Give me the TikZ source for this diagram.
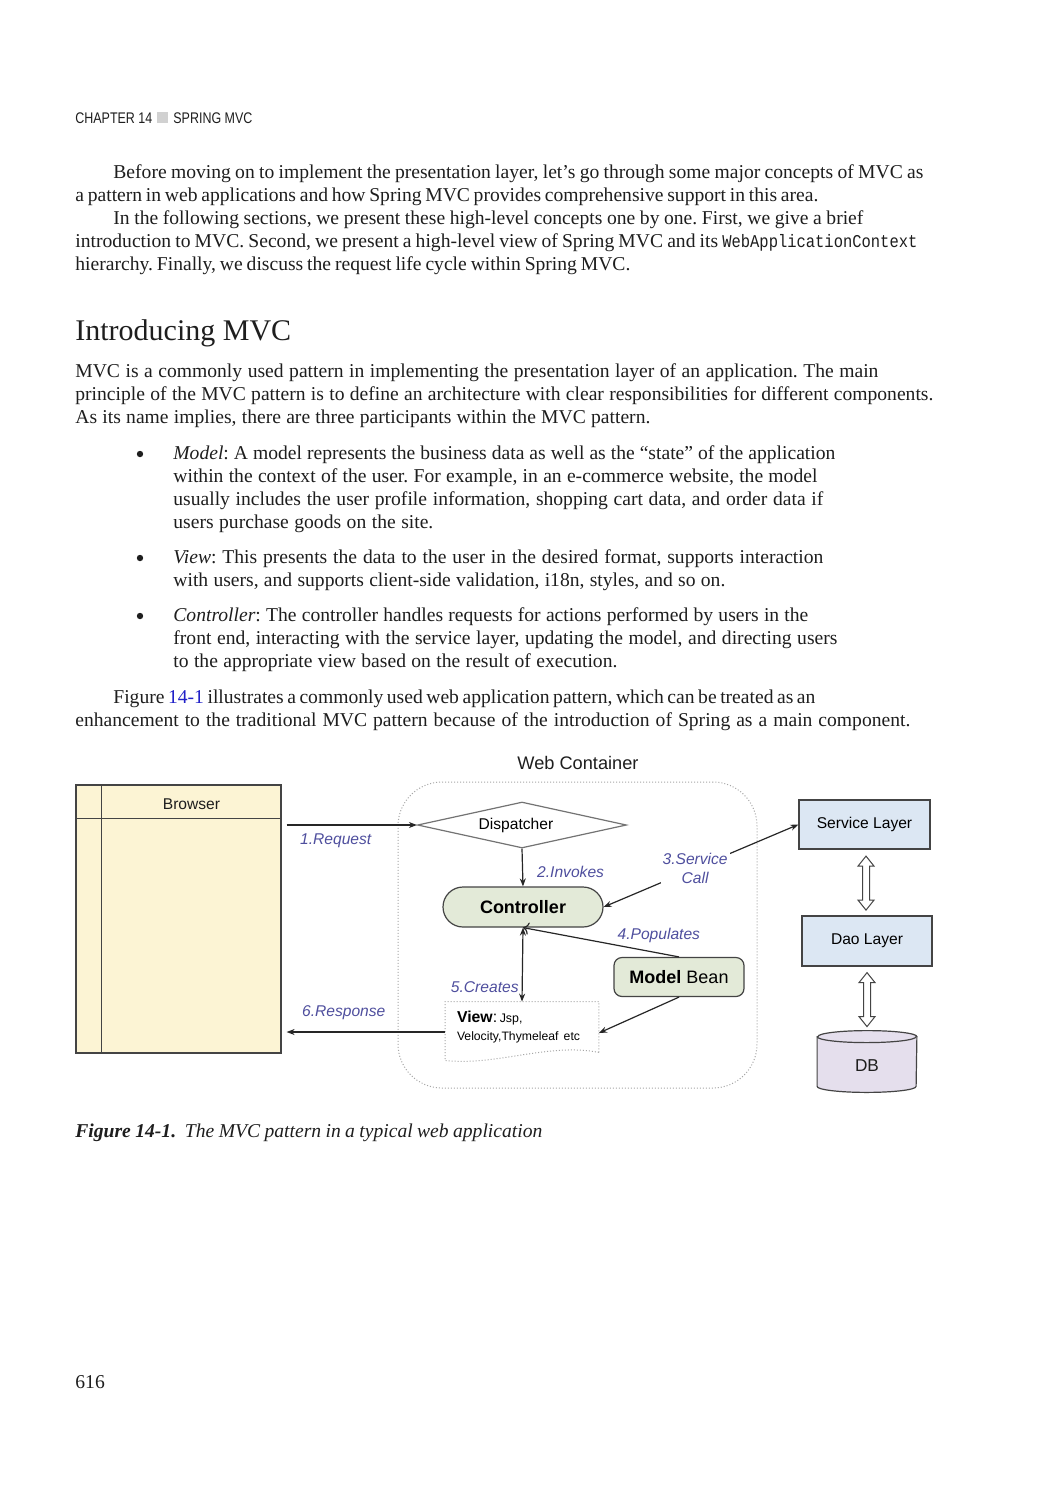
\documentclass[tikz,border=0pt]{standalone}
\usepackage{fontspec}
\setmainfont{Liberation Serif}
\setsansfont{Liberation Sans}
\setmonofont{Liberation Mono}
\newfontfamily\condsans[FakeStretch=0.81]{Liberation Sans}
\newfontfamily\codefont[FakeStretch=0.86]{Liberation Mono}
\usepackage{xcolor}
\usetikzlibrary{arrows.meta,shapes.geometric,positioning}
\definecolor{inktext}{HTML}{1E1E1E}
\definecolor{browserfill}{HTML}{FCF4D4}
\definecolor{greenfill}{HTML}{E3EAD8}
\definecolor{bluefill}{HTML}{DCE7F3}
\definecolor{dbfill}{HTML}{E5DFED}
\definecolor{boxline}{HTML}{444444}
\definecolor{lblblue}{HTML}{4F4F9E}
\definecolor{linkblue}{HTML}{2020C8}
\newlength{\px}
\setlength{\px}{0.5pt}
% one line of body text, stretched to the width it has on the page
\newcommand{\tline}[5]{\node[txt] (#1) at (#2,#3) {\makebox[#4\px][s]{#5}};}
\tikzset{
  txt/.style={anchor=base west, inner sep=0pt, text=inktext, font=\frenchspacing\fontsize{9.8}{11.5}\selectfont},
  head/.style={anchor=base west, inner sep=0pt, text=inktext, font=\condsans\fontsize{7.7}{9}\selectfont},
  lbl/.style={font=\sffamily\itshape\fontsize{7.8}{9.5}\selectfont, text=lblblue, inner sep=1pt},
  box/.style={draw=boxline, line width=0.6pt, inner sep=0pt, font=\sffamily\fontsize{7.8}{9}\selectfont},
  greenbox/.style={box, fill=greenfill, font=\sffamily\bfseries\fontsize{9}{10}\selectfont},
  bluebox/.style={box, fill=bluefill},
  arr/.style={draw=black!85, line width=0.6pt, -{Stealth[length=4pt,width=3pt]}},
  twoarr/.style={arr, {Stealth[length=4pt,width=3pt]}-{Stealth[length=4pt,width=3pt]}},
  dots/.style={draw=black!35, line width=0.5pt, dash pattern=on 0.5pt off 1pt},
  % hollow up-down arrow between the layers, 27pt long
  hollowarr/.pic={
    \draw[boxline, line width=0.5pt, fill=white] (0,0) -- (4pt,-5pt) -- (1.75pt,-5pt) -- (1.75pt,-22pt) -- (4pt,-22pt)
      -- (0,-27pt) -- (-4pt,-22pt) -- (-1.75pt,-22pt) -- (-1.75pt,-5pt) -- (-4pt,-5pt) -- cycle;
  }
}
\begin{document}
\begin{tikzpicture}[x=0.5pt, y=-0.5pt]
\useasboundingbox (0,0) rectangle (1050,1500);
\fill[white] (0,0) rectangle (1050,1500);

% running head
\node[head] (chap) at (75,123) {CHAPTER 14};
\fill[black!18] (157,112) rectangle (168,123);
\node[head] (spring) at (173,123) {SPRING MVC};

% first paragraphs
\tline{pa}{113}{178}{810}{Before moving on to implement the presentation layer, let’s go through some major concepts of MVC as}
\tline{pb}{75}{201}{743}{a pattern in web applications and how Spring MVC provides comprehensive support in this area.}
\tline{pc}{113}{224}{750}{In the following sections, we present these high-level concepts one by one. First, we give a brief}
\tline{pd}{75}{247}{842}{introduction to MVC. Second, we present a high-level view of Spring MVC and its {\codefont\fontsize{9}{10}\selectfont WebApplicationContext}}
\tline{pe}{75}{270}{555}{hierarchy. Finally, we discuss the request life cycle within Spring MVC.}

% section
\node[anchor=base west, inner sep=0pt, text=inktext, font=\fontsize{15}{18}\selectfont] (intro) at (75,340) {Introducing MVC};
\tline{ma}{75}{377}{803}{MVC is a commonly used pattern in implementing the presentation layer of an application. The main}
\tline{mb}{75}{400}{858}{principle of the MVC pattern is to define an architecture with clear responsibilities for different components.}
\tline{mc}{75}{423}{575}{As its name implies, there are three participants within the MVC pattern.}

% bullets
\fill[inktext] (140,454) circle (1.6pt);
\fill[inktext] (140,558) circle (1.6pt);
\fill[inktext] (140,616) circle (1.6pt);
\tline{ba}{173}{459}{662}{\textit{Model}: A model represents the business data as well as the “state” of the application}
\tline{bb}{173}{482}{644}{within the context of the user. For example, in an e-commerce website, the model}
\tline{bc}{173}{505}{650}{usually includes the user profile information, shopping cart data, and order data if}
\tline{bd}{173}{528}{260}{users purchase goods on the site.}
\tline{be}{173}{563}{650}{\textit{View}: This presents the data to the user in the desired format, supports interaction}
\tline{bf}{173}{586}{552}{with users, and supports client-side validation, i18n, styles, and so on.}
\tline{bg}{173}{621}{635}{\textit{Controller}: The controller handles requests for actions performed by users in the}
\tline{bh}{173}{644}{664}{front end, interacting with the service layer, updating the model, and directing users}
\tline{bi}{173}{667}{444}{to the appropriate view based on the result of execution.}

\tline{fa}{113}{703}{702}{Figure {\color{linkblue}14-1} illustrates a commonly used web application pattern, which can be treated as an}
\tline{fb}{75}{726}{835}{enhancement to the traditional MVC pattern because of the introduction of Spring as a main component.}

% the figure
\node[dots, minimum width=179.5pt, minimum height=153pt, rounded corners=22pt] (webc) at (577.5,935) {};
\node[anchor=base, inner sep=0pt, text=inktext, font=\sffamily\fontsize{9.1}{10}\selectfont] (webtitle) at (578,769) {Web Container};

\node[box, fill=browserfill, minimum width=102.5pt, minimum height=134pt] (browser) at (178.5,919) {};
\draw[boxline, line width=0.6pt] ([yshift=-17pt]browser.north west) -- ([yshift=-17pt]browser.north east);
\draw[boxline, line width=0.6pt] ([xshift=13pt]browser.north west) -- ([xshift=13pt]browser.south west);
\node[font=\sffamily\fontsize{7.8}{9}\selectfont, text=inktext] (browsertxt) at (191.5,804) {Browser};

\node[box, diamond, fill=white, draw=black!55, aspect=4.5, minimum width=104.5pt, minimum height=23pt] (disp) at (522,825) {\hspace*{-6pt}Dispatcher};
\node[greenbox, minimum width=80pt, minimum height=20pt, rounded corners=10pt] (ctrl) at (523,907) {Controller};
\node[greenbox, minimum width=65pt, minimum height=19.5pt, rounded corners=4pt] (bean) at (679,977) {Model\mdseries\ Bean};
\node[inner sep=0pt, minimum width=76.5pt, minimum height=25pt, text width=65pt, align=left, font=\sffamily\fontsize{7.9}{8}\selectfont] (view) at (522,1027)
  {\textbf{View}:\,{\fontsize{6.2}{7}\selectfont Jsp,}\\[1pt]{\fontsize{6.1}{7}\selectfont Velocity,Thymeleaf etc}};
\draw[dots] (view.south east) -- (view.north east) -- (view.north west) -- ([yshift=-4pt]view.south west)
  .. controls +(25pt,-3pt) and +(-25pt,5pt) .. (view.south east);

\node[bluebox, minimum width=65.5pt, minimum height=24.5pt] (svc) at (864.5,824.5) {Service Layer};
\node[bluebox, minimum width=65pt, minimum height=25pt] (dao) at (867,941) {Dao Layer};
% DB drum
\node[inner sep=0pt, minimum width=49.5pt, minimum height=30.5pt] (db) at (867,1061.5) {};
\draw[boxline, line width=0.6pt, fill=dbfill] ([yshift=-3pt]db.north west) -- ([yshift=3pt]db.south west)
  arc[start angle=180, end angle=360, x radius=24.75pt, y radius=3pt] -- ([yshift=-3pt]db.north east)
  arc[start angle=0, end angle=180, x radius=24.75pt, y radius=3pt] -- cycle;
\draw[boxline, line width=0.6pt] ([yshift=-3pt]db.north west) arc[start angle=180, end angle=360, x radius=24.75pt, y radius=3pt];
\node[font=\sffamily\fontsize{8.6}{10}\selectfont, text=inktext] (dbtxt) at (867,1066) {DB};

% connectors
\draw[arr, shorten <=2.5pt] (disp.west -| browser.east) -- (disp.west) node[lbl, below=3pt, pos=0.4] {1.Request};
\draw[arr] (disp.south) -- (ctrl.north) node[lbl, right=6pt, pos=0.62] {2.Invokes};
\draw[twoarr] (ctrl.east) -- (svc.west) node[lbl, pos=0.47, fill=white, align=center] {3.Service\\Call};
\draw[arr, <-] (ctrl.south) -- (bean.north) node[lbl, pos=0.59, anchor=south west] {4.Populates};
\draw[twoarr] (ctrl.south) -- (view.north) node[lbl, pos=0.8, left=0.5pt] {5.Creates};
\draw[arr] (bean.south) -- ([yshift=-3pt]view.east);
\draw[arr, shorten >=2.5pt] ([yshift=-2.5pt]view.west) -- ([yshift=-2.5pt]view.west -| browser.east) node[lbl, pos=0.62, above=5pt] {6.Response};
\pic at ([xshift=0.75pt, yshift=-3.25pt]svc.south) {hollowarr};
\pic at ([yshift=-3pt]dao.south) {hollowarr};

% caption and folio
\tline{cap}{75}{1137}{467}{\textbf{\textit{Figure 14-1.}}\ \ \textit{The MVC pattern in a typical web application}}
\node[txt] (folio) at (75,1388) {616};
\end{tikzpicture}
\end{document}
